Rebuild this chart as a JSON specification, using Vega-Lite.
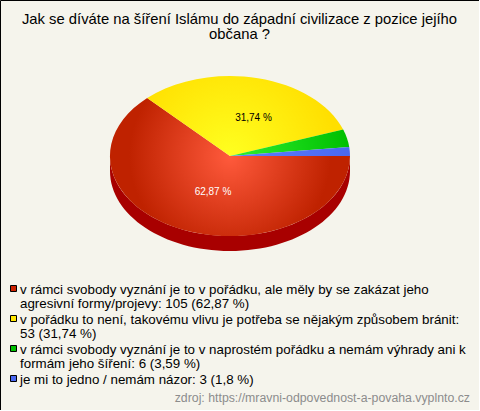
{
"$schema":"https://vega.github.io/schema/vega-lite/v6.json",
"width":479,"height":410,"padding":0,"autosize":"none",
"background":"#F5F4EC",
"view":{"stroke":"#000000","strokeWidth":1,"fill":"#F5F4EC"},
"title":{"text":["Jak se díváte na šíření Islámu do západní civilizace z pozice jejího","občana ?"],"anchor":"middle","frame":"group","baseline":"top","offset":0,"dy":42,"fontSize":14.8,"font":"Liberation Sans","fontWeight":"normal","color":"#000000","lineHeight":15},
"data":{"values":[
{"poradi":0,"odpoved":"v rámci svobody vyznání je to v pořádku, ale měly by se zakázat jeho agresivní formy/projevy","pocet":105,"procenta":62.87,"popis":"62,87 %","text":"v rámci svobody vyznání je to v pořádku, ale měly by se zakázat jeho\nagresivní formy/projevy: 105 (62,87 %)"},
{"poradi":1,"odpoved":"v pořádku to není, takovému vlivu je potřeba se nějakým způsobem bránit","pocet":53,"procenta":31.74,"popis":"31,74 %","text":"v pořádku to není, takovému vlivu je potřeba se nějakým způsobem bránit:\n53 (31,74 %)"},
{"poradi":2,"odpoved":"v rámci svobody vyznání je to v naprostém pořádku a nemám výhrady ani k formám jeho šíření","pocet":6,"procenta":3.59,"popis":"3,59 %","text":"v rámci svobody vyznání je to v naprostém pořádku a nemám výhrady ani k\nformám jeho šíření: 6 (3,59 %)"},
{"poradi":3,"odpoved":"je mi to jedno / nemám názor","pocet":3,"procenta":1.8,"popis":"1,8 %","text":"je mi to jedno / nemám názor: 3 (1,8 %)"}
]},
"resolve":{"scale":{"y":"independent","x":"independent","color":"independent"}},
"layer":[
{"layer":[
{"transform":[{"filter":"datum.poradi==0"}],
 "mark":{"type":"point","filled":true,"opacity":1,"size":4,"strokeWidth":0,"fill":"#A80000","shape":"M-120 0A120 80 0 0 0 120 0L120 15A120 80 0 0 1 -120 15Z"},
 "encoding":{"x":{"datum":0,"type":"quantitative","axis":null,"scale":{"domain":[-230,249],"range":[0,479],"nice":false,"zero":false}},"y":{"datum":0,"type":"quantitative","axis":null,"scale":{"domain":[-156,254],"range":[0,410],"nice":false,"zero":false}}}},
{"transform":[{"filter":"datum.poradi==0"}],
 "mark":{"type":"point","filled":true,"opacity":1,"size":4,"strokeWidth":0,"shape":"M0 0L-82.83 -57.89A120 80 0 1 0 120 0Z","fill":{"gradient":"radial","x1":0.5,"y1":0.454,"r1":0,"x2":0.5,"y2":0.454,"r2":0.42,"stops":[{"offset":0,"color":"#FF5A3C"},{"offset":1,"color":"#BF2200"}]}},
 "encoding":{"x":{"datum":0,"type":"quantitative"},"y":{"datum":0,"type":"quantitative"}}},
{"transform":[{"filter":"datum.poradi==1"}],
 "mark":{"type":"point","filled":true,"opacity":1,"size":4,"strokeWidth":0,"shape":"M0 0L113.18 -26.58A120 80 0 0 0 -82.83 -57.89Z","fill":{"gradient":"radial","x1":0.423,"y1":0.704,"r1":0,"x2":0.423,"y2":0.704,"r2":0.55,"stops":[{"offset":0,"color":"#FFFF20"},{"offset":1,"color":"#FFDF00"}]}},
 "encoding":{"x":{"datum":0,"type":"quantitative"},"y":{"datum":0,"type":"quantitative"}}},
{"transform":[{"filter":"datum.poradi==2"}],
 "mark":{"type":"point","filled":true,"opacity":1,"size":4,"strokeWidth":0,"shape":"M0 0L119.24 -9.01A120 80 0 0 0 113.18 -26.58Z","fill":{"gradient":"radial","x1":0,"y1":0.612,"r1":0,"x2":0,"y2":0.612,"r2":1,"stops":[{"offset":0,"color":"#30F030"},{"offset":1,"color":"#00BF00"}]}},
 "encoding":{"x":{"datum":0,"type":"quantitative"},"y":{"datum":0,"type":"quantitative"}}},
{"transform":[{"filter":"datum.poradi==3"}],
 "mark":{"type":"point","filled":true,"opacity":1,"size":4,"strokeWidth":0,"shape":"M0 0L120 0A120 80 0 0 0 119.24 -9.01Z","fill":{"gradient":"radial","x1":0,"y1":0.5375,"r1":0,"x2":0,"y2":0.5375,"r2":1,"stops":[{"offset":0,"color":"#5F80FF"},{"offset":1,"color":"#4A68F0"}]}},
 "encoding":{"x":{"datum":0,"type":"quantitative"},"y":{"datum":0,"type":"quantitative"}}},
{"transform":[{"filter":"datum.poradi==0"}],
 "mark":{"type":"text","font":"Liberation Sans","fontSize":10,"color":"#FFFFFF","align":"center","baseline":"middle"},
 "encoding":{"text":{"field":"popis"},"x":{"datum":-17,"type":"quantitative"},"y":{"datum":36,"type":"quantitative"}}},
{"transform":[{"filter":"datum.poradi==1"}],
 "mark":{"type":"text","font":"Liberation Sans","fontSize":10,"color":"#000000","align":"center","baseline":"middle"},
 "encoding":{"text":{"field":"popis"},"x":{"datum":23.5,"type":"quantitative"},"y":{"datum":-38,"type":"quantitative"}}},
{"data":{"values":[{"zdroj":"zdroj: https://mravni-odpovednost-a-povaha.vyplnto.cz"}]},
 "mark":{"type":"text","font":"Liberation Sans","fontSize":12.3,"color":"#8C8C8C","align":"right","baseline":"middle"},
 "encoding":{"text":{"field":"zdroj"},"x":{"datum":240,"type":"quantitative"},"y":{"datum":242,"type":"quantitative"}}}
]},
{"layer":[
{"mark":{"type":"square","filled":true,"opacity":1,"size":36,"stroke":"#000000","strokeWidth":1},
 "encoding":{"x":{"datum":13.5,"type":"quantitative","axis":null,"scale":{"domain":[0,479],"range":[0,479],"nice":false,"zero":false}},"y":{"field":"poradi","type":"quantitative","axis":null,"scale":{"domain":[0,3],"range":[288.5,378.5],"nice":false,"zero":false}},"fill":{"field":"odpoved","type":"nominal","legend":null,"sort":{"field":"poradi"},"scale":{"range":["#CC2200","#FFE600","#00BF00","#4A68F0"]}}}},
{"mark":{"type":"text","font":"Liberation Sans","fontSize":13.35,"color":"#000000","align":"left","baseline":"alphabetic","lineBreak":"\n","lineHeight":14,"dy":5},
 "encoding":{"text":{"field":"text"},"x":{"datum":20,"type":"quantitative"},"y":{"field":"poradi","type":"quantitative"}}}
]}
]
}
